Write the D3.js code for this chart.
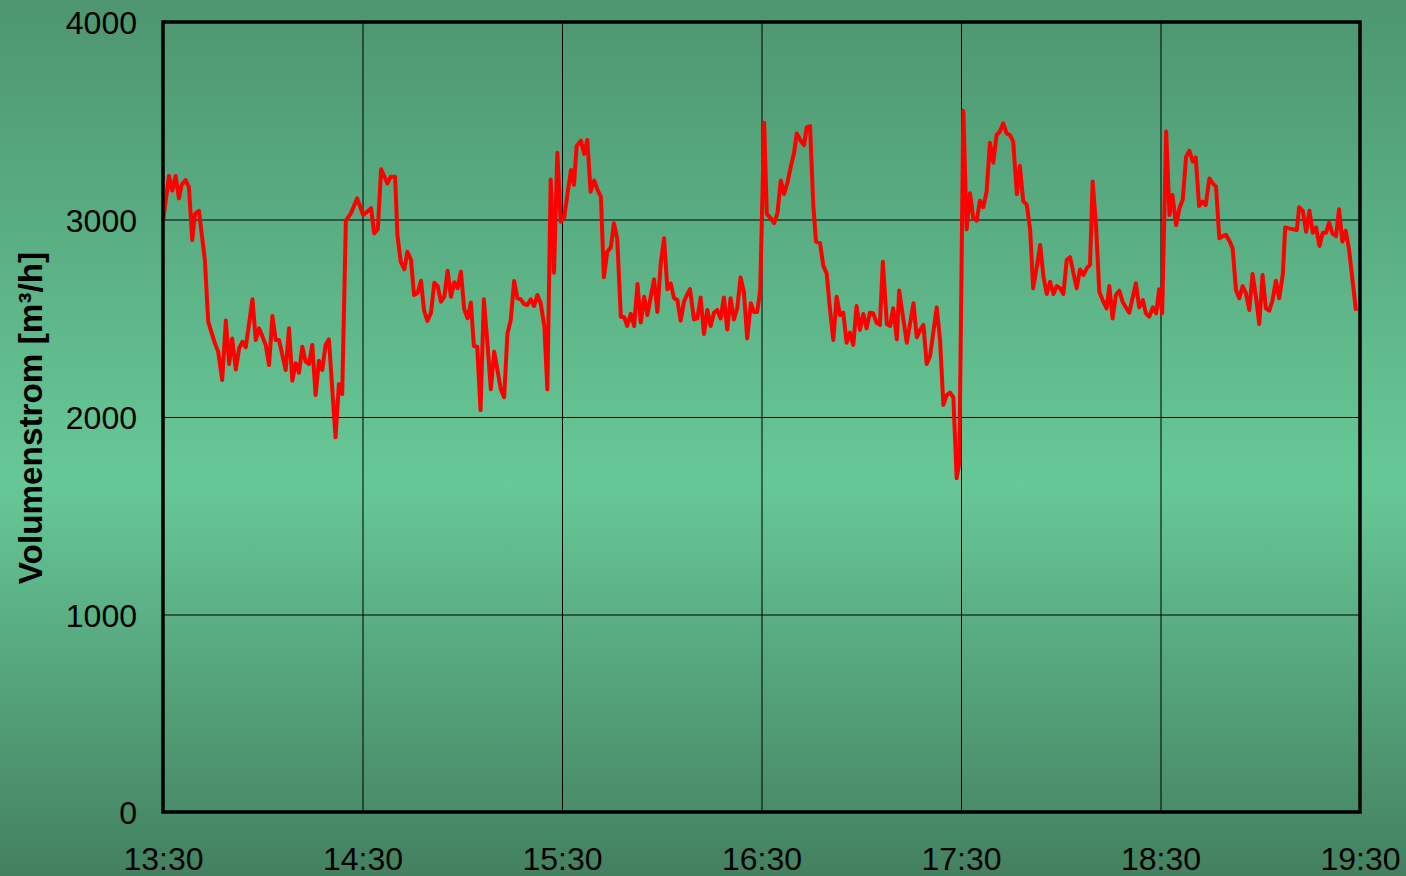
<!DOCTYPE html>
<html>
<head>
<meta charset="utf-8">
<script src="https://cdn.jsdelivr.net/npm/d3@7"></script>
<style>
  html, body { margin: 0; padding: 0; }
  body { width: 1406px; height: 876px; overflow: hidden; }
  svg { display: block; }
  text { font-family: "Liberation Sans", Arial, sans-serif; fill: #000; }
</style>
</head>
<body>
<svg id="chart" width="1406" height="876"></svg>
<script>
// ---- data: minutes after 13:30 and volume flow [m³/h] ----
const minutes = [
  0, 1.8, 2.8, 3.8, 4.8, 5.6, 6.8, 7.8, 8.8, 9.6, 10.8, 12.6, 13.6, 15.6, 16.6, 17.8, 18.9, 19.9, 20.8, 21.9,
  22.9, 23.9, 24.9, 26.9, 27.9, 28.9, 29.9, 30.9, 31.9, 32.9, 33.9, 34.9, 36.9, 37.9, 38.9, 39.9, 40.9, 41.9, 42.9, 43.9,
  44.9, 45.9, 46.9, 47.9, 48.9, 49.9, 51.9, 52.9, 53.9, 55.0, 56.5, 58.4,
  60.2, 62.6, 63.5, 64.6, 65.6, 67.5, 68.5, 69.8, 70.5, 71.5, 72.6, 73.5, 74.6, 75.5, 76.6, 77.6, 78.5, 79.5,
  80.6, 81.6, 82.6, 83.6, 84.6, 85.6, 86.6, 87.6, 88.6, 89.6, 90.6, 91.6, 92.6, 93.5, 94.5, 95.5, 96.5, 97.5,
  98.6, 99.6, 100.5, 101.6, 102.6, 103.6, 104.6, 105.6, 106.6, 107.6, 108.6, 109.6, 110.6, 111.6, 112.6, 113.6,
  114.7, 115.6, 116.6, 117.6, 118.6, 119.6, 120.6,
  122.7, 123.6, 124.4, 125.7, 126.7, 127.6, 128.6, 129.7, 130.7, 131.7, 132.6, 133.6, 134.7, 135.6, 136.6, 137.7,
  138.7, 139.6, 140.7, 141.7, 142.7, 143.7, 144.7, 145.7, 146.7, 147.7, 148.7, 149.7, 150.7, 151.7, 152.7, 153.7,
  154.7, 155.7, 156.7, 157.7, 158.5, 159.7, 160.7, 161.7, 162.7, 163.7, 164.7, 165.7, 166.7, 167.7, 168.7, 169.7,
  170.7, 171.7, 172.7, 173.7, 174.7, 175.7, 176.8, 177.7, 178.7, 179.6, 180.8,
  181.6, 182.8, 183.8, 184.8, 185.8, 186.8, 187.8, 188.8, 189.8, 190.6, 191.8, 192.8, 193.6, 194.6, 195.6, 196.4,
  197.6, 198.6, 199.6, 200.6, 201.6, 202.6, 203.6, 204.6, 205.6, 206.6, 207.6, 208.6, 209.6, 210.6, 211.6, 212.6,
  213.6, 214.6, 215.6, 216.5, 217.7, 218.7, 219.6, 220.7, 221.4, 222.7, 223.7, 224.7, 225.7, 226.7, 227.7, 228.7,
  229.7, 230.7, 232.7, 233.7, 234.7, 235.7, 236.7, 237.7, 238.7, 239.5, 240.7,
  241.7, 242.7, 243.7, 244.7, 245.7, 246.7, 247.7, 248.7, 249.7, 250.7, 251.7, 252.7, 253.7, 254.7, 255.7, 256.8,
  257.7, 258.7, 259.8, 260.8, 261.7, 262.8, 263.8, 264.8, 265.8, 266.8, 267.8, 268.8, 269.8, 270.8, 271.8, 272.8,
  273.8, 274.8, 275.8, 276.8, 277.8, 278.8, 279.6, 280.6, 281.6, 282.8, 283.8, 284.6, 285.6, 286.6, 287.6, 288.6,
  289.6, 290.6, 292.6, 293.6, 294.7, 295.6, 296.6, 297.7, 298.7, 299.6, 300.5, 301.7,
  302.7, 303.6, 304.7, 305.7, 306.7, 307.7, 308.7, 309.7, 310.6, 311.6, 312.6, 313.6, 314.7, 315.7, 316.7, 317.7,
  318.7, 319.7, 320.7, 321.7, 322.7, 323.7, 324.7, 325.7, 326.7, 327.7, 328.7, 329.7, 330.7, 331.7, 332.7, 333.7,
  334.7, 335.7, 336.8, 337.5, 338.6, 341.0, 341.7, 342.8, 343.8, 344.8, 345.8, 346.8, 347.8, 348.8, 349.8, 350.7,
  351.7, 352.8, 353.7, 354.7, 355.7, 356.7, 358.8
];
const volumeFlow = [
  2990, 3220, 3146, 3220, 3107, 3175, 3200, 3163, 2896, 3028, 3044, 2795, 2483, 2373, 2331, 2187, 2488, 2268, 2398, 2241,
  2348, 2381, 2353, 2596, 2390, 2449, 2407, 2365, 2263, 2511, 2390, 2390, 2238, 2449, 2184, 2272, 2224, 2356, 2280, 2268,
  2365, 2111, 2285, 2238, 2365, 2393, 1897, 2167, 2116, 2994, 3031, 3107,
  3023, 3057, 2930, 2950, 3254, 3183, 3217, 3217, 2921, 2786, 2748, 2837, 2795, 2618, 2629, 2690, 2542, 2486,
  2528, 2680, 2663, 2584, 2609, 2741, 2609, 2682, 2652, 2736, 2545, 2500, 2579, 2359, 2356, 2035, 2596, 2390,
  2140, 2331, 2247, 2140, 2100, 2424, 2491, 2689, 2601, 2596, 2572, 2567, 2596, 2562, 2618, 2576,
  2457, 2140, 3203, 2731, 3338, 2989, 3006,
  3251, 3175, 3372, 3399, 3332, 3403, 3141, 3197, 3149, 3116, 2707, 2837, 2859, 2981, 2905, 2508,
  2505, 2461, 2522, 2461, 2673, 2478, 2609, 2516, 2609, 2697, 2532, 2778, 2905, 2647, 2676, 2601,
  2592, 2488, 2584, 2623, 2647, 2494, 2499, 2605, 2420, 2542, 2461, 2528, 2542, 2499, 2605, 2443,
  2601, 2494, 2550, 2707, 2634, 2398, 2576, 2532, 2532, 2640, 3490,
  3028, 3006, 2981, 3034, 3197, 3129, 3186, 3267, 3338, 3436, 3399, 3377, 3467, 3473, 3065, 2888,
  2880, 2765, 2727, 2545, 2390, 2609, 2516, 2528, 2376, 2427, 2365, 2562, 2441, 2522, 2449, 2528,
  2525, 2478, 2466, 2786, 2471, 2461, 2550, 2393, 2640, 2491, 2376, 2474, 2576, 2403, 2441, 2466,
  2268, 2309, 2555, 2390, 2061, 2111, 2123, 2100, 1690, 1770, 3550,
  2950, 3133, 3006, 2994, 3095, 3062, 3141, 3389, 3288, 3428, 3445, 3487, 3436, 3428, 3394, 3129,
  3271, 3095, 3073, 2947, 2652, 2761, 2871, 2711, 2623, 2685, 2623, 2663, 2652, 2623, 2795, 2809,
  2731, 2652, 2747, 2719, 2753, 2770, 3192, 2972, 2634, 2584, 2550, 2663, 2499, 2618, 2640, 2584,
  2555, 2528, 2677, 2555, 2592, 2525, 2508, 2555, 2525, 2647, 2525, 3445,
  3023, 3124, 2972, 3057, 3101, 3318, 3348, 3293, 3315, 3068, 3090, 3073, 3208, 3183, 3166, 2905,
  2916, 2922, 2893, 2854, 2643, 2601, 2663, 2626, 2542, 2724, 2609, 2471, 2719, 2550, 2538, 2592,
  2690, 2601, 2724, 2960, 2955, 2947, 3062, 3044, 2938, 3044, 2933, 2960, 2866, 2933, 2933, 2984,
  2930, 2916, 3052, 2888, 2943, 2849, 2538
];
const xTickMinutes = [0, 60, 120, 180, 240, 300, 360];
const xTickLabels = ["13:30", "14:30", "15:30", "16:30", "17:30", "18:30", "19:30"];
const yTickValues = [0, 1000, 2000, 3000, 4000];
const yAxisTitle = "Volumenstrom [m³/h]";

// ---- layout ----
const W = 1406, H = 876;
const plot = { left: 163, right: 1360, top: 22, bottom: 812 };

const svg = d3.select("#chart");

// background gradient
const defs = svg.append("defs");
const grad = defs.append("linearGradient").attr("id", "bg")
  .attr("x1", 0).attr("y1", 0).attr("x2", 0).attr("y2", 1);
grad.append("stop").attr("offset", "0%").attr("stop-color", "#4d9670");
grad.append("stop").attr("offset", "55%").attr("stop-color", "#67c897");
grad.append("stop").attr("offset", "100%").attr("stop-color", "#438060");
svg.append("rect").attr("width", W).attr("height", H).attr("fill", "url(#bg)");

const x = d3.scaleLinear().domain([0, 360]).range([plot.left, plot.right]);
const y = d3.scaleLinear().domain([0, 4000]).range([plot.bottom, plot.top]);

// gridlines
svg.append("g")
  .attr("transform", `translate(0,${plot.bottom})`)
  .call(d3.axisBottom(x).tickValues(xTickMinutes).tickSize(-(plot.bottom - plot.top)).tickFormat(""))
  .call(g => g.select(".domain").remove())
  .call(g => g.selectAll("line").attr("stroke", "#000").attr("stroke-width", 1));
svg.append("g")
  .attr("transform", `translate(${plot.left},0)`)
  .call(d3.axisLeft(y).tickValues(yTickValues).tickSize(-(plot.right - plot.left)).tickFormat(""))
  .call(g => g.select(".domain").remove())
  .call(g => g.selectAll("line").attr("stroke", "#000").attr("stroke-width", 1));

// data line
const pts = minutes.map((m, i) => [m, volumeFlow[i]]);
svg.append("path")
  .datum(pts)
  .attr("fill", "none")
  .attr("stroke", "#ff0000")
  .attr("stroke-width", 4)
  .attr("stroke-linejoin", "round")
  .attr("d", d3.line().x(d => x(d[0])).y(d => y(d[1])));

// frame
svg.append("rect")
  .attr("x", plot.left).attr("y", plot.top)
  .attr("width", plot.right - plot.left).attr("height", plot.bottom - plot.top)
  .attr("fill", "none").attr("stroke", "#000").attr("stroke-width", 3.5);

// y tick labels
svg.append("g")
  .attr("transform", `translate(${plot.left},0)`)
  .call(d3.axisLeft(y).tickValues(yTickValues).tickSize(0).tickPadding(26).tickFormat(d3.format("d")))
  .call(g => g.select(".domain").remove())
  .call(g => g.selectAll("text")
    .attr("font-family", "'Liberation Sans', Arial, sans-serif")
    .attr("font-size", 32).attr("fill", "#000").attr("dy", "0.36em"));

// x tick labels
svg.append("g")
  .attr("transform", `translate(0,${plot.bottom})`)
  .call(d3.axisBottom(x).tickValues(xTickMinutes).tickSize(0)
    .tickFormat((d, i) => xTickLabels[i]))
  .call(g => g.select(".domain").remove())
  .call(g => g.selectAll("text")
    .attr("font-family", "'Liberation Sans', Arial, sans-serif")
    .attr("font-size", 32).attr("fill", "#000").attr("y", 58).attr("dy", 0));

// y axis title
svg.append("text")
  .attr("transform", `translate(42,418) rotate(-90)`)
  .attr("text-anchor", "middle")
  .attr("font-size", 33.3)
  .attr("font-weight", "bold")
  .text(yAxisTitle);
</script>
</body>
</html>
